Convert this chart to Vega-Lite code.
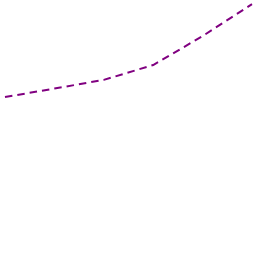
{
  "$schema": "https://vega.github.io/schema/vega-lite/v6.json",
  "width": 256,
  "height": 256,
  "autosize": {"type": "fit", "contains": "padding"},
  "padding": 0,
  "config": {"view": {"stroke": null}},
  "data": {"values": [
    {"x": 0, "y": 62.1},
    {"x": 1, "y": 65.4},
    {"x": 2, "y": 68.8},
    {"x": 3, "y": 74.6},
    {"x": 4, "y": 85.9},
    {"x": 5, "y": 98.4}
  ]},
  "mark": {"type": "line", "color": "#800080", "strokeWidth": 2, "strokeDash": [7.5, 5]},
  "encoding": {
    "x": {"field": "x", "type": "quantitative", "scale": {"domain": [-0.101, 5.081], "nice": false, "zero": false}, "axis": null},
    "y": {"field": "y", "type": "quantitative", "scale": {"domain": [0, 100], "nice": false}, "axis": null}
  }
}
